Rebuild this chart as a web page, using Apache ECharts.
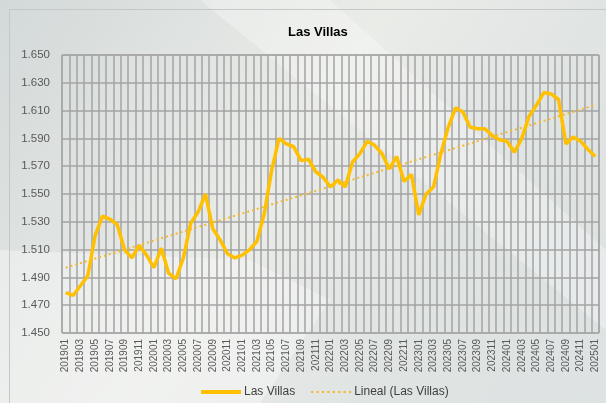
<!DOCTYPE html>
<html>
<head>
<meta charset="utf-8">
<script src="https://cdn.jsdelivr.net/npm/echarts@6/dist/echarts.min.js"></script>
<style>
html, body { margin: 0; padding: 0; }
#chart { width: 606px; height: 403px; }
</style>
</head>
<body>
<div id="chart"></div>
<script>
// meses (eje X)
const months = [
	'201901','201902','201903','201904','201905','201906','201907','201908','201909','201910','201911','201912',
	'202001','202002','202003','202004','202005','202006','202007','202008','202009','202010','202011','202012',
	'202101','202102','202103','202104','202105','202106','202107','202108','202109','202110','202111','202112',
	'202201','202202','202203','202204','202205','202206','202207','202208','202209','202210','202211','202212',
	'202301','202302','202303','202304','202305','202306','202307','202308','202309','202310','202311','202312',
	'202401','202402','202403','202404','202405','202406','202407','202408','202409','202410','202411','202412',
	'202501'
]
// valores Las Villas
const lasVillas = [
	1479,1477,1484,1491,1520,1534,1532,1528,1510,1504,1513,1506,
	1497,1511,1493,1489,1504,1529,1537,1550,1525,1517,1507,1504,
	1506,1510,1516,1536,1567,1590,1586,1584,1574,1575,1566,1562,
	1555,1560,1555,1573,1579,1588,1585,1579,1568,1577,1559,1564,
	1535,1550,1555,1579,1598,1612,1609,1598,1597,1597,1592,1589,
	1588,1580,1590,1606,1614,1623,1622,1618,1586,1591,1588,1582,
	1577
]
// tendencia lineal: valor al inicio y al final
const trendEnds = [1497, 1614]
const yTicks = [1450, 1650, 20]

const myChart = echarts.init(document.getElementById('chart'))
const gold = '#FFC000'
const trendColor = '#f2b92e'
const labelFont = "'Liberation Sans Narrow', 'Liberation Sans', sans-serif"

// iconos de leyenda: línea continua y línea de puntos
const solidIcon = 'path://M0,0H40V4H0Z'
const dotIcon = 'path://M0,0h2v2h-2z M5,0h2v2h-2z M10,0h2v2h-2z M15,0h2v2h-2z M20,0h2v2h-2z M25,0h2v2h-2z M30,0h2v2h-2z M35,0h2v2h-2z'

const option = {
	backgroundColor: {
		type: 'linear', x: 0, y: 0, x2: 1, y2: 1,
		colorStops: [
			{ offset: 0, color: '#d3d9d9' },
			{ offset: 0.45, color: '#eaece8' },
			{ offset: 0.7, color: '#e0e4e3' },
			{ offset: 1, color: '#dde2e2' }
		]
	},
	animation: false,
	//fondo y marco
	graphic: [{
		type: 'polygon',
		silent: true,
		z: -10,
		shape: { points: [[0, 250], [0, 403], [260, 403], [330, 300], [250, 260]] },
		style: { fill: 'rgba(255,255,255,0.35)' }
	}, {
		type: 'polygon',
		silent: true,
		z: -10,
		shape: { points: [[200, 0], [330, 0], [606, 250], [606, 330]] },
		style: { fill: 'rgba(255,255,255,0.3)' }
	}, {
		type: 'rect',
		silent: true,
		z: -5,
		shape: { x: 9.5, y: 9.5, width: 620, height: 420 },
		style: { fill: 'none', stroke: '#c4c8c8', lineWidth: 1 }
	}],
	title: {
		text: 'Las Villas',
		left: 283,
		top: 21,
		textStyle: {
			color: '#000',
			fontWeight: 'bold',
			fontSize: 13,
			fontFamily: "'Liberation Sans', Arial, sans-serif"
		}
	},
	legend: {
		bottom: 0,
		left: 196,
		itemWidth: 40,
		itemHeight: 4,
		itemGap: 16,
		textStyle: { color: '#404040', fontSize: 12, fontFamily: labelFont, padding: [0, 0, 0, -2] },
		data: [
			{ name: 'Las Villas', icon: solidIcon },
			{ name: 'Lineal (Las Villas)', icon: dotIcon }
		]
	},
	grid: {
		left: 62,
		right: 7,
		top: 55,
		bottom: 70,
		show: true,
		borderColor: '#a0a0a0',
		borderWidth: 1
	},
	xAxis: {
		type: 'category',
		data: months,
		boundaryGap: true,
		axisLine: { show: false },
		axisTick: { show: false },
		axisLabel: {
			interval: 1,
			rotate: 90,
			color: '#595959',
			fontSize: 10,
			fontFamily: labelFont,
			margin: 6
		},
		splitLine: {
			show: true,
			interval: 0,
			lineStyle: { color: '#a3a3a3', width: 1.5 }
		}
	},
	yAxis: {
		type: 'value',
		min: yTicks[0],
		max: yTicks[1],
		interval: yTicks[2],
		axisLine: { show: false },
		axisTick: { show: false },
		axisLabel: {
			color: '#595959',
			fontSize: 11.5,
			fontFamily: labelFont,
			margin: 12,
			formatter: v => String(v).replace(/(\d)(\d{3})$/, '$1.$2')
		},
		splitLine: { lineStyle: { color: '#a3a3a3', width: 1.5 } }
	},
	series: [{
		name: 'Las Villas',
		type: 'line',
		data: lasVillas,
		symbol: 'none',
		lineStyle: { color: gold, width: 3.5 },
		itemStyle: { color: gold },
		z: 3
	}, {
		name: 'Lineal (Las Villas)',
		type: 'line',
		data: [[months[0], trendEnds[0]], [months[months.length - 1], trendEnds[1]]],
		symbol: 'none',
		lineStyle: { color: trendColor, width: 2, type: [2, 3] },
		itemStyle: { color: trendColor },
		z: 2
	}]
}
myChart.setOption(option)
</script>
</body>
</html>
